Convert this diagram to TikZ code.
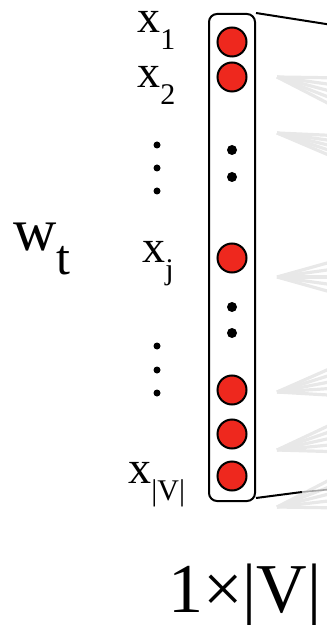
\documentclass[tikz,border=0pt]{standalone}
\usepackage{fontspec}
\setmainfont{Liberation Serif}

\definecolor{unitred}{RGB}{238,40,30}
\newcommand{\lsub}[1]{\raisebox{-8.5pt}{\fontsize{15pt}{15pt}\selectfont #1}}

\begin{document}
\begin{tikzpicture}[x=0.5pt, y=-0.5pt,
  unit/.style={circle, draw=black, line width=1pt, fill=unitred, minimum size=14.5pt, inner sep=0pt},
  gap/.style={circle, fill=black, minimum size=5pt, inner sep=0pt},
  ldot/.style={circle, fill=black, minimum size=3.5pt, inner sep=0pt},
  lbl/.style={anchor=base west, inner sep=0pt, font=\fontsize{23pt}{23pt}\selectfont},
  fan/.style={line width=1.6pt, draw=black!9}]
  \useasboundingbox (0,0) rectangle (326,625);

  % faded weights going to the hidden layer
  \foreach \i/\ay/\lo/\hi in {1/77/78/112, 2/133/136/162, 3/277/258/296, 4/392/362/396, 5/450/418/452, 6/507/472/508} {
    \coordinate (f\i) at (277,\ay);
    \foreach \k in {0,...,4}
      \draw[fan] (f\i) -- (345,{\lo+(\hi-\lo)*\k/4});
  }

  % input column
  \node[draw, line width=1pt, rounded corners=4pt, minimum width=23pt, minimum height=243.5pt, inner sep=0pt] (col) at (232,257.5) {};
  \foreach \n/\y in {x1/42, x2/77, xj/258, xa/390, xb/434, xv/476}
    \node[unit] (\n) at (232,\y) {};
  \foreach \n/\y in {g1/150, g2/177, g3/307, g4/333}
    \node[gap] (\n) at (232,\y) {};

  \coordinate (top) at (345,27);
  \coordinate (cut) at (302,492);
  \coordinate (bot) at (345,488);
  \draw[line width=1pt] (col.north east) -- (top);
  \draw[line width=1pt] (col.south east) ++(0,-4) -- (cut);
  \draw[line width=0.8pt, black!35] (cut) -- (bot);

  % labels
  \node[lbl] (l1) at (137,33) {x\lsub{1}};
  \node[lbl] (l2) at (137,88) {x\lsub{2}};
  \node[lbl] (lj) at (142,263) {x\lsub{j}};
  \node[lbl] (lv) at (128,483) {x\lsub{|V|}};
  \foreach \n/\y in {d1/145, d2/168, d3/191, d4/346, d5/370, d6/393}
    \node[ldot] (\n) at (157,\y) {};
  \node[anchor=base west, inner sep=0pt, font=\fontsize{30pt}{30pt}\selectfont] (wt) at (13,250)
    {w\raisebox{-12.5pt}{\fontsize{25pt}{25pt}\selectfont t}};
  \node[anchor=base, inner sep=0pt, font=\fontsize{35pt}{35pt}\selectfont] (dim) at (245,612) {1×|V|};
\end{tikzpicture}
\end{document}
